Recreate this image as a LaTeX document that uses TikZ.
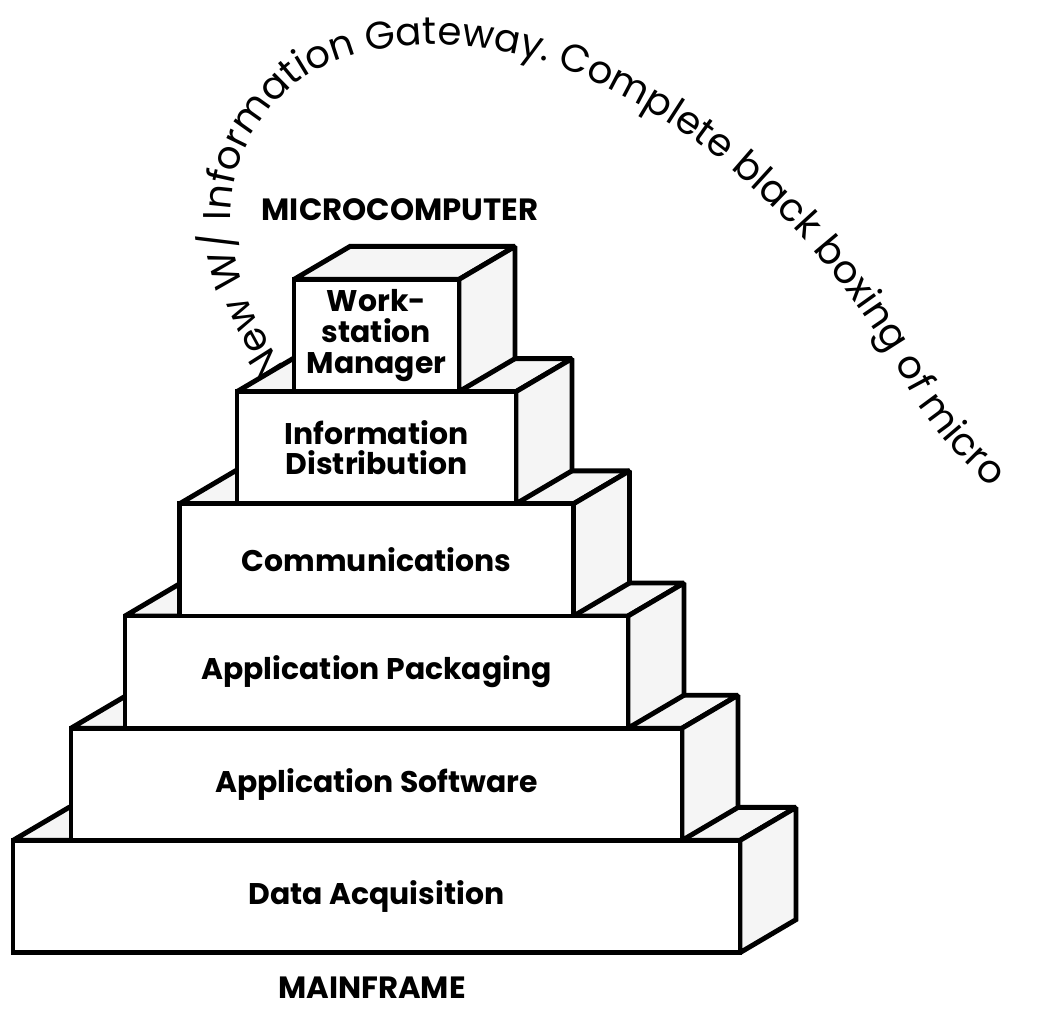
\documentclass[tikz,border=0pt]{standalone}
\usepackage{fontspec}
\newfontfamily\labelfont{Poppins}
\newfontfamily\arcfont{Poppins}
\usetikzlibrary{positioning,calc,backgrounds,decorations.text}

\begin{document}
\begin{tikzpicture}[
  x=0.2mm, y=0.2mm,
  layer/.style={draw, line width=2.8pt, fill=white, outer sep=0pt, inner sep=0pt, minimum height=22.44mm, align=center, font=\labelfont\bfseries\fontsize{17}{17.5}\selectfont},
  face/.style={draw, line width=2.8pt, fill=black!4, miter limit=2},
  endlabel/.style={font=\labelfont\bfseries\fontsize{17.5}{18}\selectfont},
]
\useasboundingbox (0,0) rectangle (1044,-1017);

% front faces, bottom up
\node[layer, minimum width=145.4mm] (da) at (376.5,-896.5) {Data Acquisition};
\node[layer, minimum width=122.2mm, above=0pt of da] (as) {Application Software};
\node[layer, minimum width=100.6mm, above=0pt of as] (ap) {Application Packaging};
\node[layer, minimum width=78.8mm, above=0pt of ap] (co) {Communications};
\node[layer, minimum width=55.8mm, above=0pt of co] (id) {Information\\Distribution};
\node[layer, minimum width=33mm, above=0pt of id] (wm) {Work-\\station\\Manager};

% top and side faces
\begin{scope}[on background layer]
\foreach \n in {da,as,ap,co,id,wm}{
  \draw[face] (\n.north west) -- ++(56,33) -- ($(\n.north east)+(56,33)$) -- (\n.north east) -- cycle;
  \draw[face] (\n.north east) -- ++(56,33) -- ($(\n.south east)+(56,33)$) -- (\n.south east) -- cycle;
}
\end{scope}

\node[endlabel] (micro) at (400,-210) {MICROCOMPUTER};
\node[endlabel] (main) at (372,-988) {MAINFRAME};

% note written round the top
\path[decorate, decoration={text along path, text align=left,
  text={|\arcfont\fontsize{22}{24}\selectfont|New W/ Information Gateway. Complete black boxing of micro}}]
  (285,-368) .. controls (218,-270) and (203,-158) .. (300,-80)
  .. controls (380,-25) and (520,-40) .. (600,-85)
  .. controls (740,-150) and (850,-275) .. (915,-400)
  .. controls (950,-455) and (1000,-500) .. (1090,-565);
\end{tikzpicture}
\end{document}
